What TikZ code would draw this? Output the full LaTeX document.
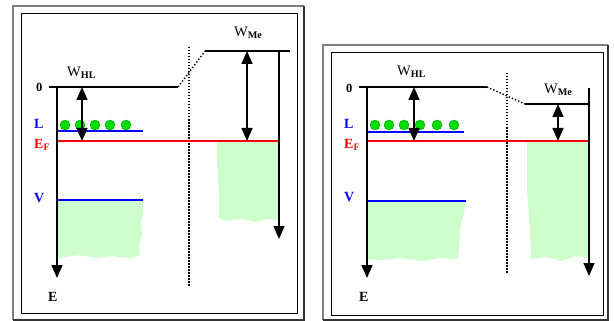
\documentclass[tikz,border=0pt]{standalone}
\usepackage{fontspec}
\setmainfont{Liberation Serif}
\usetikzlibrary{arrows.meta}
\definecolor{bandgreen}{RGB}{204,255,204}
\definecolor{dotgreen}{RGB}{0,220,0}
\definecolor{lvlblue}{RGB}{0,0,255}
\definecolor{lvlred}{RGB}{255,0,0}
\definecolor{framegray}{RGB}{128,128,128}

\begin{document}
\begin{tikzpicture}[x=1pt,y=-1pt,
  level/.style={line width=1.4pt},
  blevel/.style={line width=1.6pt,lvlblue},
  rlevel/.style={line width=1.6pt,lvlred},
  axis/.style={line width=1.5pt,-{Triangle[width=11pt,length=13pt]}},
  gap/.style={line width=1.5pt,{Triangle[width=11pt,length=13pt]}-{Triangle[width=11pt,length=13pt]}},
  sep/.style={line width=1.5pt,dash pattern=on 1.5pt off 1.5pt},
  band/.style={fill=bandgreen,draw=none},
  dot/.style={circle,fill=dotgreen,draw=dotgreen!70!black,minimum size=10pt,inner sep=0pt},
  lbl/.style={inner sep=0pt,anchor=west,font=\fontsize{14}{16}\selectfont\bfseries},
  zlbl/.style={inner sep=0pt,anchor=west,font=\fontsize{12.5}{14}\selectfont\bfseries},
  wlbl/.style={inner sep=0pt,anchor=west,font=\fontsize{14.5}{16}\selectfont}]
\useasboundingbox (0,0) rectangle (614,321);

% frames
\draw[framegray,line width=2.5pt] (13,320) -- (13,6) -- (304,6);
\draw[black!80,line width=1.5pt] (304,6) -- (304,320) -- (13,320);
\draw[line width=0.8pt] (21,13) rectangle (297,313);
\draw[framegray,line width=2.5pt] (323,320) -- (323,45) -- (608,45);
\draw[black!80,line width=1.5pt] (608,45) -- (608,320) -- (323,320);
\draw[line width=0.8pt] (331,52) rectangle (603,315);

% left panel: bands
\fill[band] (57,200) -- (143,200) -- (143,214) -- (141,222) -- (142,234) -- (139,245)
  -- (140,255) -- (130,258) -- (112,256) -- (96,258) -- (80,255) -- (66,257) -- (57,258) -- cycle;
\fill[band] (217,141) -- (279,141) -- (279,220) -- (266,219) -- (256,222) -- (241,219)
  -- (226,221) -- (219,218) -- (219,190) -- (217,160) -- cycle;

% left panel: levels
\coordinate (vacA) at (57,87);
\coordinate (vacMeA) at (279,51);
\coordinate (efA) at (57,141);
\draw[level] (49,87) -- (178,87);
\draw[level,dotted] (178,87) -- (205,51);
\draw[level] (205,51) -- (290,51);
\draw[sep] (189,47) -- (189,287);
\draw[blevel] (57,131) -- (143,131);
\draw[blevel] (57,200) -- (143,200);
\draw[rlevel] (efA) -- (279,141);
\foreach \x in {65,80,95,110,126}
  \node[dot] at (\x,125) {};
\coordinate (axA) at (57,278);
\coordinate (axMeA) at (279,239);
\draw[axis] (vacA) -- (axA);
\draw[axis] (vacMeA) -- (axMeA);
\coordinate (whlTopA) at (82,87);
\coordinate (whlBotA) at (82,141);
\draw[gap] (whlTopA) -- (whlBotA);
\coordinate (wmeTopA) at (247,51);
\coordinate (wmeBotA) at (247,141);
\draw[gap] (wmeTopA) -- (wmeBotA);

% left panel: labels
\node[zlbl] (zeroA) at (36,87) {0};
\node[lbl,lvlblue] (lA) at (34,124) {L};
\node[lbl,lvlred] (efLblA) at (34,145) {E\textsubscript{F}};
\node[lbl,lvlblue] (vA) at (34,198) {V};
\node[lbl] (eA) at (48,297) {E};
\node[wlbl] (whlA) at (67,73) {W\textsubscript{\bfseries HL}};
\node[wlbl] (wmeA) at (234,33) {W\textsubscript{\bfseries Me}};

% right panel: bands
\fill[band] (367,201) -- (466,201) -- (464,214) -- (461,222) -- (460,236) -- (458,259)
  -- (441,258) -- (421,261) -- (401,258) -- (381,260) -- (367,259) -- cycle;
\fill[band] (527,141) -- (589,141) -- (589,258) -- (576,256) -- (561,261) -- (546,257)
  -- (531,259) -- (530,230) -- (527,190) -- cycle;

% right panel: levels
\coordinate (vacB) at (367,87);
\coordinate (vacMeB) at (589,88);
\coordinate (efB) at (367,141);
\draw[level] (359,87) -- (487,87);
\draw[level,dotted] (487,87) -- (525,104);
\draw[level] (525,104) -- (589,104);
\draw[sep] (507,73) -- (507,273);
\draw[blevel] (367,132) -- (464,132);
\draw[blevel] (367,201) -- (466,201);
\draw[rlevel] (efB) -- (590,141);
\foreach \x in {375,389,404,420,437,454}
  \node[dot] at (\x,125) {};
\coordinate (axB) at (367,278);
\coordinate (axMeB) at (589,276);
\draw[axis] (vacB) -- (axB);
\draw[axis] (vacMeB) -- (axMeB);
\coordinate (whlTopB) at (414,87);
\coordinate (whlBotB) at (414,141);
\draw[gap] (whlTopB) -- (whlBotB);
\coordinate (wmeTopB) at (558,104);
\coordinate (wmeBotB) at (558,141);
\draw[gap] (wmeTopB) -- (wmeBotB);

% right panel: labels
\node[zlbl] (zeroB) at (346,88) {0};
\node[lbl,lvlblue] (lB) at (344,124) {L};
\node[lbl,lvlred] (efLblB) at (344,145) {E\textsubscript{F}};
\node[lbl,lvlblue] (vB) at (344,197) {V};
\node[lbl] (eB) at (359,297) {E};
\node[wlbl] (whlB) at (397,72) {W\textsubscript{\bfseries HL}};
\node[wlbl] (wmeB) at (544,90) {W\textsubscript{\bfseries Me}};
\end{tikzpicture}
\end{document}
